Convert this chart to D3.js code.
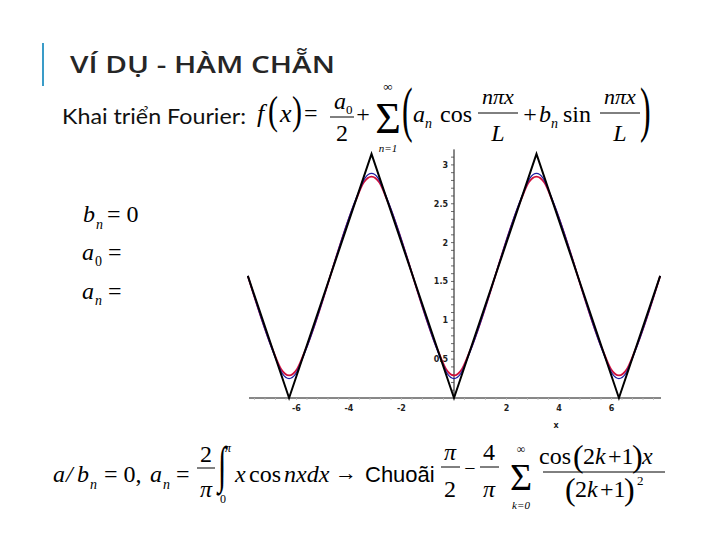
<!DOCTYPE html>
<html><head><meta charset="utf-8">
<script src="https://cdn.jsdelivr.net/npm/d3@7"></script>
<style>body{margin:0;background:#fff}svg{display:block}</style>
</head><body>
<script>
// ---- data ----
const triX = [-7.854, -6.283, -3.142, 0, 3.142, 6.283, 7.854];
const triY = [1.571, 0, 3.142, 0, 3.142, 0, 1.571];

const redX = [-7.854, -6.883, -6.583, -6.283, -5.983, -5.683, -3.742, -3.442, -3.142, -2.842, -2.542,
  -0.6, -0.3, 0, 0.3, 0.6, 2.542, 2.842, 3.142, 3.442, 3.742, 5.683, 5.983, 6.283, 6.583, 6.883, 7.854];
const redY = [1.571, 0.6, 0.37, 0.29, 0.37, 0.6, 2.542, 2.772, 2.85, 2.772, 2.542,
  0.6, 0.37, 0.29, 0.37, 0.6, 2.542, 2.772, 2.85, 2.772, 2.542, 0.6, 0.37, 0.29, 0.37, 0.6, 1.571];

const blueX = [-7.854, -6.783, -6.533, -6.283, -6.033, -5.783, -3.642, -3.392, -3.142, -2.892, -2.642,
  -0.5, -0.25, 0, 0.25, 0.5, 2.642, 2.892, 3.142, 3.392, 3.642, 5.783, 6.033, 6.283, 6.533, 6.783, 7.854];
const blueY = [1.571, 0.5, 0.31, 0.25, 0.31, 0.5, 2.642, 2.83, 2.89, 2.83, 2.642,
  0.5, 0.31, 0.25, 0.31, 0.5, 2.642, 2.83, 2.89, 2.83, 2.642, 0.5, 0.31, 0.25, 0.31, 0.5, 1.571];

const xTicks = [-6, -4, -2, 2, 4, 6];
const yTicks = [0.5, 1, 1.5, 2, 2.5, 3];
const yTickLabels = ["0.5", "1", "1.5", "2", "2.5", "3"];

// ---- drawing ----
const W = 720, H = 540;
const svg = d3.select("body").append("svg").attr("width", W).attr("height", H);
svg.append("rect").attr("width", W).attr("height", H).attr("fill", "#fff");

const x = d3.scaleLinear().domain([-8, 8]).range([454 - 8 * 26.25, 454 + 8 * 26.25]);
const y = d3.scaleLinear().domain([0, 3]).range([398, 398 - 3 * 77.7]);

const chart = svg.append("g");
chart.append("line").attr("x1", 249).attr("x2", 661).attr("y1", y(0)).attr("y2", y(0))
  .attr("stroke", "#111").attr("stroke-width", 1);
chart.append("line").attr("x1", x(0)).attr("x2", x(0)).attr("y1", y(0)).attr("y2", y(3.2))
  .attr("stroke", "#111").attr("stroke-width", 1);

const yMinor = d3.range(1, 32).map(d => d / 10);
chart.selectAll(".ymt").data(yMinor).enter().append("line")
  .attr("x1", x(0) - 3).attr("x2", x(0)).attr("y1", d => y(d)).attr("y2", d => y(d))
  .attr("stroke", "#444").attr("stroke-width", 0.8);
const xMinor = d3.range(-19, 20).map(d => d * 0.4).filter(d => Math.abs(d) > 0.01);
chart.selectAll(".xmt").data(xMinor).enter().append("line")
  .attr("x1", d => x(d)).attr("x2", d => x(d)).attr("y1", y(0)).attr("y2", y(0) + 2)
  .attr("stroke", "#bbb").attr("stroke-width", 0.8);

chart.selectAll(".yl").data(yTicks).enter().append("text")
  .attr("x", x(0) - 6).attr("y", d => y(d) + 3)
  .attr("text-anchor", "end").attr("font-family", "DejaVu Sans").attr("font-weight", "bold")
  .attr("font-size", 8).attr("fill", "#222").text((d, i) => yTickLabels[i]);
chart.selectAll(".xl").data(xTicks).enter().append("text")
  .attr("x", d => x(d)).attr("y", y(0) + 13)
  .attr("text-anchor", "middle").attr("font-family", "DejaVu Sans").attr("font-weight", "bold")
  .attr("font-size", 8).attr("fill", "#222").text(d => d < 0 ? "-" + Math.abs(d) : d);
chart.append("text").attr("x", 556).attr("y", 428).attr("text-anchor", "middle")
  .attr("font-family", "DejaVu Sans").attr("font-weight", "bold").attr("font-size", 8)
  .attr("fill", "#222").text("x");

const line = d3.line().x(d => x(d[0])).y(d => y(d[1])).curve(d3.curveMonotoneX);
const lineL = d3.line().x(d => x(d[0])).y(d => y(d[1]));
chart.append("path").attr("d", line(redX.map((v, i) => [v, redY[i]])))
  .attr("fill", "none").attr("stroke", "#d0103a").attr("stroke-width", 1.8);
chart.append("path").attr("d", line(blueX.map((v, i) => [v, blueY[i]])))
  .attr("fill", "none").attr("stroke", "#1c1ca0").attr("stroke-width", 1.2);
chart.append("path").attr("d", lineL(triX.map((v, i) => [v, triY[i]])))
  .attr("fill", "none").attr("stroke", "#000").attr("stroke-width", 2);

// ---- slide text ----
svg.append("rect").attr("x", 42).attr("y", 43).attr("width", 2).attr("height", 43).attr("fill", "#3a9cc8");
svg.append("text").attr("x", 70).attr("y", 73).attr("font-family", "Open Sans").attr("font-weight", 600)
  .attr("font-size", 23).attr("fill", "#262626").attr("textLength", 265).attr("lengthAdjust", "spacingAndGlyphs")
  .text("VÍ DỤ - HÀM CHẴN");
svg.append("text").attr("x", 62).attr("y", 124).attr("font-family", "Lato").attr("font-size", 21)
  .attr("fill", "#111").attr("textLength", 184).attr("lengthAdjust", "spacingAndGlyphs")
  .text("Khai triển Fourier:");

const SERIF = "Liberation Serif";
function t(xx, yy, s, size, italic, anchor, fam) {
  return svg.append("text").attr("x", xx).attr("y", yy).attr("font-family", fam || SERIF)
    .attr("font-size", size).attr("font-style", italic ? "italic" : "normal")
    .attr("text-anchor", anchor || "start").attr("fill", "#000").text(s);
}
function bar(x1, x2, yy) {
  svg.append("line").attr("x1", x1).attr("x2", x2).attr("y1", yy).attr("y2", yy)
    .attr("stroke", "#000").attr("stroke-width", 1);
}
function scaled(el, cx, cy, sx, sy) {
  el.attr("transform", `translate(${cx},${cy}) scale(${sx},${sy}) translate(${-cx},${-cy})`);
  return el;
}

// top formula
t(257, 122, "f", 26, true);
scaled(t(268, 124, "(", 30, false), 268, 124, 1, 1.35);
t(280, 122, "x", 26, true);
scaled(t(292, 124, ")", 30, false), 292, 124, 1, 1.35);
t(304, 121, "=", 24, false);
t(334, 109, "a", 24, true); t(346, 114, "0", 13, false);
bar(330, 354, 117);
t(342, 141, "2", 24, false, "middle");
t(363, 122, "+", 24, false, "middle");
t(388, 133, "Σ", 44, false, "middle");
t(388, 91, "∞", 13, false, "middle");
t(388, 152, "n=1", 11, false, "middle").attr("font-style", "italic");
scaled(t(402, 130, "(", 40, false), 402, 130, 0.8, 1.55);
t(413, 122, "a", 24, true); t(425, 128, "n", 14, true);
t(440, 122, "cos", 24, false);
t(498, 104, "nπx", 22, true, "middle");
bar(478, 518, 113);
t(498, 141, "L", 24, true, "middle");
t(530, 122, "+", 24, false, "middle");
t(539, 122, "b", 24, true); t(551, 128, "n", 14, true);
t(563, 122, "sin", 24, false);
t(620, 104, "nπx", 22, true, "middle");
bar(600, 640, 113);
t(620, 141, "L", 24, true, "middle");
scaled(t(640, 130, ")", 40, false), 640, 130, 0.8, 1.55);

// left formulas
t(83, 222, "b", 24, true); t(96, 229, "n", 14, true); t(107, 222, "= 0", 24, false);
t(82, 260, "a", 24, true); t(95, 266, "0", 14, false); t(108, 260, "=", 24, false);
t(82, 299, "a", 24, true); t(95, 305, "n", 14, true); t(108, 299, "=", 24, false);

// bottom formula
const BY = 482;
t(53, BY, "a", 24, true); t(66, BY, "/", 24, true); t(77, BY, "b", 24, true); t(90, BY + 7, "n", 14, true);
t(104, BY, "= 0,", 24, false);
t(150, BY, "a", 24, true); t(163, BY + 7, "n", 14, true);
t(176, BY, "=", 24, false);
t(206, 462, "2", 24, false, "middle"); bar(197, 215, 468); t(206, 497, "π", 24, true, "middle");
scaled(t(218, 482, "∫", 30, false), 218, 482, 1, 1.7);
t(228, 452, "π", 12, true, "middle"); t(223, 503, "0", 12, false, "middle");
t(235, BY, "x", 24, true); t(249, BY, "cos", 24, false); t(284, BY, "nxdx", 24, true);
t(335, BY - 2, "→", 22, false);
t(365, BY, "Chuoãi", 22, false, "start", "Liberation Sans");
t(450, 460, "π", 24, true, "middle"); bar(441, 460, 467); t(450, 497, "2", 24, false, "middle");
t(470, 475, "−", 20, false, "middle");
t(489, 460, "4", 24, false, "middle"); bar(480, 499, 467); t(489, 497, "π", 24, true, "middle");
t(521, 490, "Σ", 38, false, "middle");
t(521, 453, "∞", 12, false, "middle");
t(521, 509, "k=0", 11, false, "middle").attr("font-style", "italic");
t(539, 464, "cos", 24, false);
t(573, 467, "(", 32, false); t(583, 464, "2", 24, false); t(595, 464, "k", 24, true);
t(608, 464, "+1", 24, false); t(632, 467, ")", 32, false); t(642, 464, "x", 24, true);
bar(543, 665, 472);
t(565, 500, "(", 32, false); t(575, 497, "2", 24, false); t(587, 497, "k", 24, true);
t(600, 497, "+1", 24, false); t(624, 500, ")", 32, false); t(637, 485, "2", 13, false);
</script>
</body></html>
